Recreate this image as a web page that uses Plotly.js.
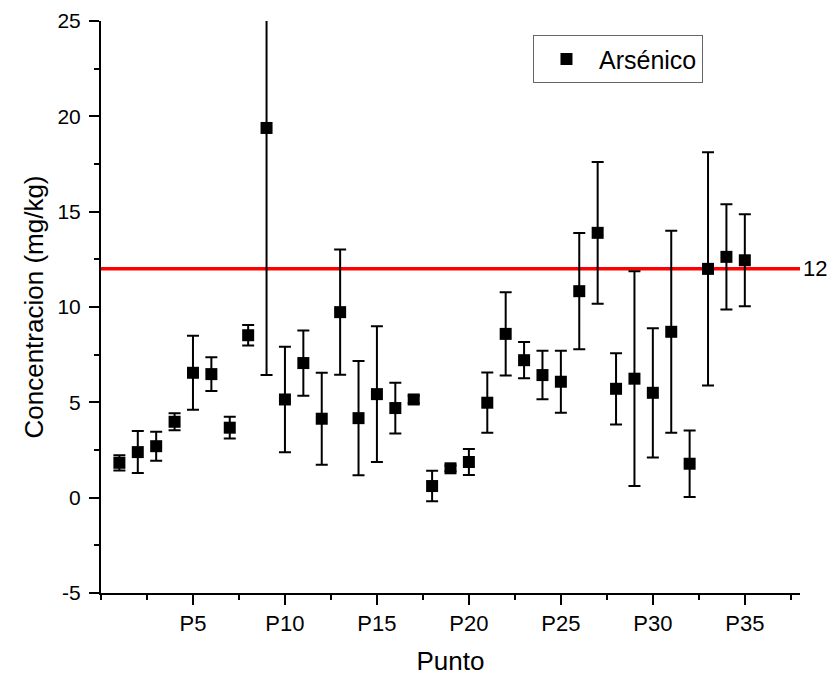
<!DOCTYPE html>
<html>
<head>
<meta charset="utf-8">
<script src="https://cdn.plot.ly/plotly-3.0.1.min.js"></script>
<style>
html,body{margin:0;padding:0;background:#fff;}
#chart{width:832px;height:679px;}
</style>
</head>
<body>
<div id="chart"></div>
<script>
// Sampling points (P1..P35) as numeric positions
const pointIndex = [1,2,3,4,5,6,7,8,9,10,11,12,13,14,15,16,17,18,19,20,21,22,23,24,25,26,27,28,29,30,31,32,33,34,35];
const pointNames = pointIndex.map(i => "P" + i);
// Arsenic concentration (mg/kg)
const arsenico = [1.83,2.39,2.70,3.98,6.55,6.48,3.67,8.52,19.39,5.15,7.06,4.14,9.73,4.17,5.43,4.70,5.15,0.61,1.54,1.87,4.98,8.59,7.21,6.43,6.08,10.83,13.89,5.71,6.24,5.50,8.70,1.78,12.00,12.63,12.45];
// Error (±)
const arsenicoErr = [0.40,1.10,0.76,0.45,1.94,0.89,0.57,0.54,12.96,2.77,1.71,2.41,3.28,3.00,3.56,1.33,0.20,0.80,0.15,0.68,1.58,2.18,0.95,1.27,1.63,3.05,3.72,1.87,5.63,3.39,5.30,1.74,6.12,2.76,2.41];
// Reference limit
const limite = 12;
const limiteX = [0, 38];
// Axis ticks
const xTickVals = [5,10,15,20,25,30,35];
const xTickText = ["P5","P10","P15","P20","P25","P30","P35"];
const yTickVals = [-5,0,5,10,15,20,25];
const yTickText = ["-5","0","5","10","15","20","25"];

const FONT = "Arial, 'Liberation Sans', sans-serif";

const traces = [
  {
    x: limiteX,
    y: limiteX.map(() => limite),
    type: "scatter",
    mode: "lines",
    line: {color: "#ff0000", width: 3.5},
    showlegend: false,
    hoverinfo: "skip"
  },
  {
    x: pointIndex,
    y: arsenico,
    text: pointNames,
    type: "scatter",
    mode: "markers",
    name: "Arsénico",
    marker: {symbol: "square", size: 12, color: "#000"},
    error_y: {type: "data", array: arsenicoErr, visible: true, color: "#000", thickness: 2, width: 6}
  }
];

const layout = {
  width: 832,
  height: 679,
  margin: {l: 101, r: 32, t: 21, b: 86},
  paper_bgcolor: "#fff",
  plot_bgcolor: "#fff",
  font: {family: FONT, color: "#000", size: 20},
  showlegend: true,
  legend: {
    x: 0.618, y: 0.975, xanchor: "left", yanchor: "top",
    bgcolor: "#fff", bordercolor: "#666", borderwidth: 1,
    font: {family: FONT, size: 25, color: "#000"},
    itemwidth: 55
  },
  xaxis: {
    range: [0, 38],
    showgrid: false, zeroline: false,
    showline: true, linecolor: "#000", linewidth: 2,
    ticks: "outside", ticklen: 10, tickwidth: 2, tickcolor: "#000",
    tickmode: "array", tickvals: xTickVals, ticktext: xTickText,
    tickfont: {family: FONT, size: 22, color: "#000"},
    minor: {tickmode: "linear", tick0: 0, dtick: 2.5, ticks: "outside", ticklen: 5, tickwidth: 2, tickcolor: "#000", showgrid: false},
    title: {text: "Punto", font: {family: FONT, size: 26, color: "#000"}, standoff: 16},
    automargin: false
  },
  yaxis: {
    range: [-5, 25],
    showgrid: false, zeroline: false,
    showline: true, linecolor: "#000", linewidth: 2,
    ticks: "outside", ticklen: 10, tickwidth: 2, tickcolor: "#000",
    tickmode: "array", tickvals: yTickVals, ticktext: yTickText,
    tickfont: {family: FONT, size: 21, color: "#000"},
    ticklabelstandoff: 4,
    minor: {tickmode: "linear", tick0: 0, dtick: 2.5, ticks: "outside", ticklen: 5, tickwidth: 2, tickcolor: "#000", showgrid: false},
    title: {text: "Concentracion (mg/kg)", font: {family: FONT, size: 26, color: "#000"}, standoff: 6},
    automargin: false
  },
  annotations: [
    {
      x: 38, y: limite, xref: "x", yref: "y",
      text: String(limite), showarrow: false,
      xanchor: "left", yanchor: "middle", xshift: 1,
      font: {family: FONT, size: 22, color: "#000"}
    }
  ]
};

Plotly.newPlot("chart", traces, layout, {displayModeBar: false, staticPlot: true});
</script>
</body>
</html>
